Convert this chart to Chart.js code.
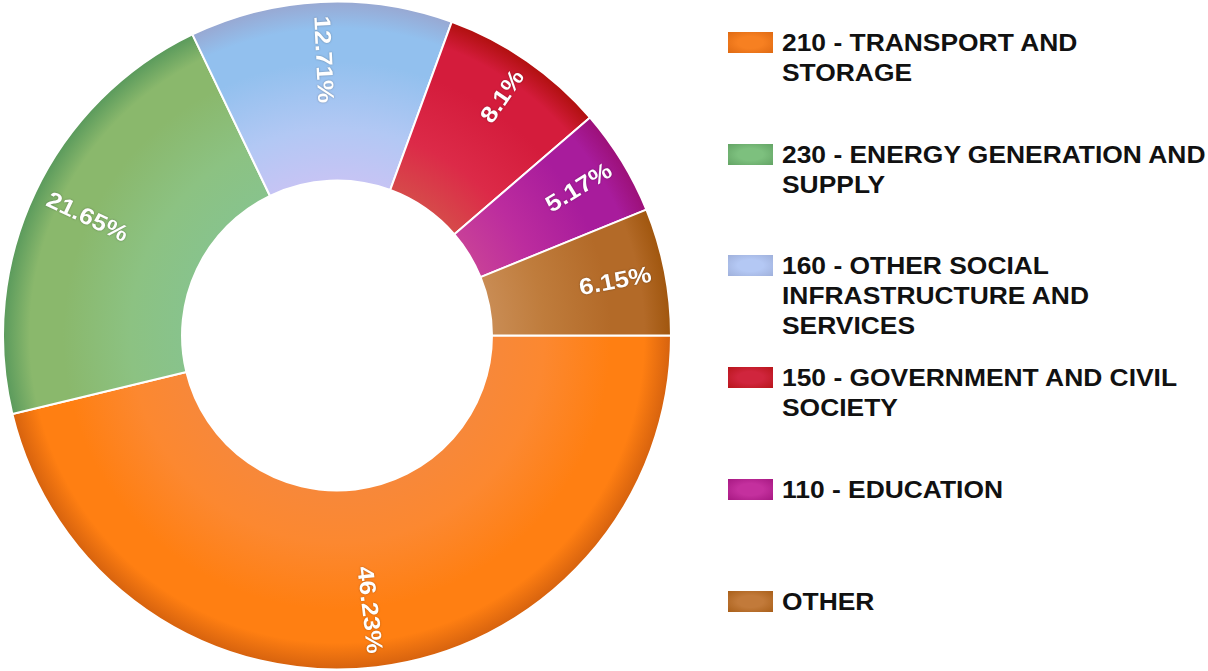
<!DOCTYPE html>
<html>
<head>
<meta charset="utf-8">
<script src="https://cdn.jsdelivr.net/npm/chart.js@4.4.1/dist/chart.umd.min.js"></script>
<style>
  html, body { margin: 0; padding: 0; background: #fff; }
  body { width: 1208px; height: 671px; position: relative; overflow: hidden; font-family: "Liberation Sans", Arial, sans-serif; }
  #chartBox { position: absolute; left: 0; top: 0; width: 674px; height: 671px; }
  #legend { position: absolute; left: 728px; top: 0; width: 480px; height: 671px; }
  .item { position: absolute; left: 0; width: 600px; }
  .swatch { position: absolute; left: 0; top: 4px; width: 45px; height: 21px; }
  .text { position: absolute; left: 54px; top: 0; font-weight: bold; font-size: 24px; line-height: 30px;
          color: #111; white-space: nowrap; transform: scaleX(1.1); transform-origin: left top; }
</style>
</head>
<body>
<div id="chartBox"><canvas id="chartCanvas"></canvas></div>
<div id="legend"></div>
<script>
// categories (legend lines) and shares in percent
const categories = [
  ['210 - TRANSPORT AND', 'STORAGE'],
  ['230 - ENERGY GENERATION AND', 'SUPPLY'],
  ['160 - OTHER SOCIAL', 'INFRASTRUCTURE AND', 'SERVICES'],
  ['150 - GOVERNMENT AND CIVIL', 'SOCIETY'],
  ['110 - EDUCATION'],
  ['OTHER']
];
const shares = [46.23, 21.65, 12.71, 8.1, 5.17, 6.15];

// shading per slice: inner edge, light band, body, outer edge
const innerColors = ['#f7883a', '#88c38c', '#c6c4f4', '#d64a4a', '#c84098', '#c98c54'];
const bandColors  = ['#fc8830', '#8cc282', '#b2c8f4', '#dc2a48', '#bc2c9e', '#bf7c3c'];
const bodyColors  = ['#ff7f12', '#8ab86c', '#92c0ee', '#d41c3c', '#a81c9c', '#b36a28'];
const outerColors = ['#d6620e', '#5a9a5c', '#98a8d2', '#b0100e', '#9c1078', '#a0560e'];
const swatchColors = ['#f78021', '#7dc07e', '#b4c8f4', '#d0253d', '#c4309e', '#c27a3a'];

const OUTER = 334;
const CUT = 0.464;

function sliceFill(context) {
  const i = context.dataIndex;
  const chart = context.chart;
  const area = chart.chartArea;
  if (!area) return bodyColors[i];
  const cx = (area.left + area.right) / 2;
  const cy = (area.top + area.bottom) / 2;
  const g = chart.ctx.createRadialGradient(cx, cy, 0, cx, cy, OUTER);
  g.addColorStop(CUT, innerColors[i]);
  g.addColorStop(0.62, bandColors[i]);
  g.addColorStop(0.82, bodyColors[i]);
  g.addColorStop(0.92, bodyColors[i]);
  g.addColorStop(1, outerColors[i]);
  return g;
}

const sliceLabels = {
  id: 'sliceLabels',
  afterDatasetsDraw(chart) {
    const ctx = chart.ctx;
    const arcs = chart.getDatasetMeta(0).data;
    ctx.save();
    ctx.font = 'bold 23px "Liberation Sans", Arial, sans-serif';
    ctx.fillStyle = '#ffffff';
    ctx.textBaseline = 'middle';
    ctx.shadowColor = 'rgba(0,0,0,0.35)';
    ctx.shadowBlur = 2;
    arcs.forEach((arc, i) => {
      const mid = (arc.startAngle + arc.endAngle) / 2;
      const r = arc.outerRadius - 14;
      const x = arc.x + Math.cos(mid) * r;
      const y = arc.y + Math.sin(mid) * r;
      let rot = mid;
      let align = 'right';
      if (Math.cos(mid) < 0) { rot = mid - Math.PI; align = 'left'; }
      ctx.save();
      ctx.translate(x, y);
      ctx.rotate(rot);
      ctx.scale(1.12, 1);
      ctx.textAlign = align;
      ctx.fillText(shares[i] + '%', 0, 1);
      ctx.restore();
    });
    ctx.restore();
  }
};

new Chart(document.getElementById('chartCanvas').getContext('2d'), {
  type: 'doughnut',
  data: {
    labels: categories,
    datasets: [{
      data: shares,
      backgroundColor: sliceFill,
      borderColor: '#ffffff',
      borderWidth: 2
    }]
  },
  options: {
    responsive: true,
    maintainAspectRatio: false,
    animation: false,
    rotation: 90,
    radius: OUTER,
    cutout: (CUT * 100) + '%',
    layout: { padding: 0 },
    plugins: { legend: { display: false }, tooltip: { enabled: false } }
  },
  plugins: [sliceLabels]
});

const legend = document.getElementById('legend');
categories.forEach((lines, i) => {
  const item = document.createElement('div');
  item.className = 'item';
  item.style.top = (28 + i * 111.7) + 'px';
  const sw = document.createElement('div');
  sw.className = 'swatch';
  sw.style.background = 'radial-gradient(ellipse at center, ' + swatchColors[i] + ' 40%, ' + outerColors[i] + ' 120%)';
  const tx = document.createElement('div');
  tx.className = 'text';
  tx.innerHTML = lines.join('<br>');
  item.appendChild(sw);
  item.appendChild(tx);
  legend.appendChild(item);
});
</script>
</body>
</html>
